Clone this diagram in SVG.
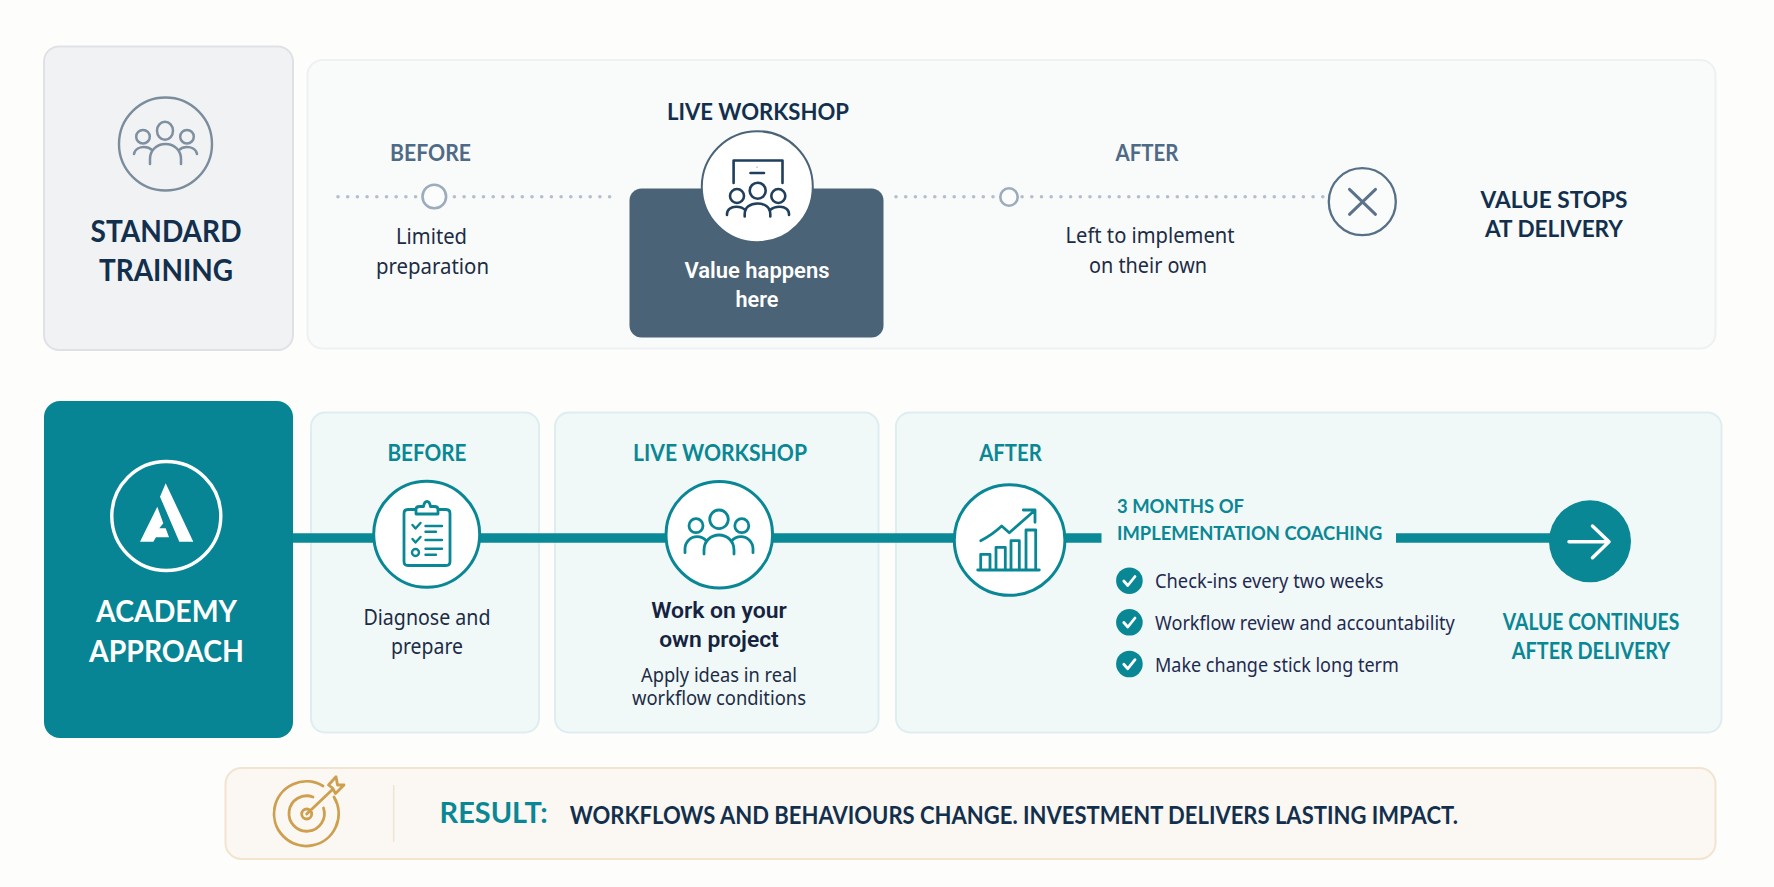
<svg xmlns="http://www.w3.org/2000/svg" width="1774" height="887" viewBox="0 0 1774 887">
<style>
text{font-family:"Lato","Liberation Sans",sans-serif;font-weight:700;text-anchor:middle}
.b{font-family:"Noto Sans","Liberation Sans",sans-serif;font-weight:400;font-size:21.5px;fill:#1c2c45}
.s{font-size:19.5px}
.m{font-family:"Roboto","Liberation Sans",sans-serif;font-weight:600;font-size:22.5px}
.l{text-anchor:start;font-size:19.5px;fill:#1f2a50}
.st{text-anchor:start}
.navy{fill:#12304d}.slate{fill:#4f6a85}.teal{fill:#0a8795}.wh{fill:#fff}.ink{fill:#14233f}
.h1{font-size:30.5px}.h2{font-size:22px}.h3{font-size:19.500px}
.panelT{fill:#f1f8f8;stroke:#deedef;stroke-width:2}
.ci{fill:#fff;stroke:#0a8795;stroke-width:3}
.ico{fill:none;stroke:#0a8795;stroke-width:2.8;stroke-linecap:round;stroke-linejoin:round}
.ico2{stroke-width:2.4}
.ppl{fill:none;stroke:#7e8fa0;stroke-width:2.5;stroke-linecap:round}
.ppd{fill:none;stroke:#1f3f5c;stroke-width:2.6;stroke-linecap:round;stroke-linejoin:round}
.gold{fill:none;stroke:#cd9f4e;stroke-width:2.8;stroke-linecap:round;stroke-linejoin:round}
.dots{fill:none;stroke:#b4bfcd;stroke-width:3.6;stroke-linecap:round;stroke-dasharray:0 9.7}
.bar{fill:none;stroke:#0a8a97;stroke-width:9.5}
.tick{fill:none;stroke:#fff;stroke-width:2.8;stroke-linecap:round;stroke-linejoin:round}
</style>
<rect width="1774" height="887" fill="#fdfdfc"/>

<g id="standard-card">
<rect x="44" y="46.5" width="249" height="303.5" rx="15" fill="#f1f2f4" stroke="#dfe1e6" stroke-width="2"/>
<circle cx="165.500" cy="144" r="46.500" fill="none" stroke="#7b8c9d" stroke-width="2.400"/>
<ellipse cx="165" cy="130.700" rx="8" ry="9" class="ppl"/>
<circle cx="143" cy="136.700" r="6.800" class="ppl"/>
<circle cx="187" cy="136.700" r="6.800" class="ppl"/>
<path class="ppl" d="M150 164V159C150 150 157 144 165.500 144S181 150 181 159V164M134 154C135 149 140 147 144 147C147 147 150 148 152 150M197 154C196 149 191 147 187 147C184 147 181 148 179 150"/>
<text x="166" y="241.700" class="h1 navy" textLength="151" lengthAdjust="spacingAndGlyphs">STANDARD</text>
<text x="166" y="280.700" class="h1 navy" textLength="134" lengthAdjust="spacingAndGlyphs">TRAINING</text>
</g>

<g id="standard-panel">
<rect x="307.500" y="60" width="1408" height="288.500" rx="15" fill="#f9fafa" stroke="#eef0f2" stroke-width="2"/>
</g>

<g id="academy-panels">
<rect x="311" y="412.500" width="228" height="320" rx="14" class="panelT"/>
<rect x="555" y="412.500" width="323.500" height="320" rx="14" class="panelT"/>
<rect x="896" y="412.500" width="825.500" height="320" rx="14" class="panelT"/>
</g>

<g id="connectors">
<path class="dots" d="M338 196.700H612"/>
<path class="dots" d="M896 196.700H1324"/>
<path class="bar" d="M293 538H1101.500"/>
<path class="bar" d="M1396 538H1570"/>
</g>

<g id="standard-before">
<text x="430.500" y="160.700" class="h2 slate" textLength="81" lengthAdjust="spacingAndGlyphs">BEFORE</text>
<circle cx="434.300" cy="196.500" r="11.800" fill="#fbfcfc" stroke="#9dacbc" stroke-width="2.600"/>
<text x="431.500" y="244" class="b" textLength="71" lengthAdjust="spacingAndGlyphs">Limited</text>
<text x="432.500" y="274" class="b" textLength="113" lengthAdjust="spacingAndGlyphs">preparation</text>
</g>

<g id="standard-workshop">
<rect x="629.500" y="188.500" width="254" height="149" rx="12" fill="#4a6377"/>
<circle cx="757.300" cy="186.700" r="55.500" fill="#fff" stroke="#4a6377" stroke-width="2"/>
<text x="758" y="119.700" class="h2 navy" textLength="182" lengthAdjust="spacingAndGlyphs">LIVE WORKSHOP</text>
<path class="ppd" d="M733.600 183V160.500H782.500V183M750.500 173H764"/>
<path d="M757 166.500V168" stroke="#9aa8b5" stroke-width="1"/>
<circle cx="757.700" cy="190.700" r="8" class="ppd"/>
<circle cx="737" cy="196" r="7" class="ppd"/>
<circle cx="778.300" cy="196" r="7" class="ppd"/>
<path class="ppd" d="M744.700 216.500V214C744.700 207.500 750 203.500 757.500 203.500S770.300 207.500 770.300 214V216.500M727 215V214C727 209.500 731 206.700 736 206.700C740 206.700 743.500 208 745.500 210.500M789 215V214C789 209.500 785 206.700 780 206.700C776 206.700 772 208 769.500 210.500"/>
<text x="757" y="278" class="m wh" textLength="145" lengthAdjust="spacingAndGlyphs">Value happens</text>
<text x="757" y="307" class="m wh" textLength="43" lengthAdjust="spacingAndGlyphs">here</text>
</g>

<g id="standard-after">
<text x="1147" y="160.700" class="h2 slate" textLength="63" lengthAdjust="spacingAndGlyphs">AFTER</text>
<circle cx="1009" cy="197" r="8.700" fill="#fbfcfc" stroke="#9dacbc" stroke-width="2.600"/>
<text x="1150" y="243" class="b" textLength="169" lengthAdjust="spacingAndGlyphs">Left to implement</text>
<text x="1148" y="272.700" class="b" textLength="118" lengthAdjust="spacingAndGlyphs">on their own</text>
</g>

<g id="standard-end">
<circle cx="1362.300" cy="201.700" r="33.500" fill="#fafbfb" stroke="#567087" stroke-width="2.300"/>
<path d="M1349.500 189.300L1375.500 214.300M1375.500 189.300L1349.500 214.300" stroke="#5b728a" stroke-width="3" stroke-linecap="round" fill="none"/>
<text x="1554" y="207.700" class="h2 navy" textLength="147" lengthAdjust="spacingAndGlyphs">VALUE STOPS</text>
<text x="1554" y="237" class="h2 navy" textLength="138" lengthAdjust="spacingAndGlyphs">AT DELIVERY</text>
</g>

<g id="academy-card">
<rect x="44" y="401" width="249" height="337" rx="16" fill="#078594"/>
<circle cx="166.300" cy="516" r="54.500" fill="none" stroke="#fff" stroke-width="3.400"/>
<path fill="#fff" d="M160 496.700L165.700 483.300L193.300 541.700H179.300ZM157.300 506.700L163.300 523.300L159.300 528.300H165.700L169 537.300H156L153.300 541.700H140Z"/>
<text x="166.500" y="621.700" class="h1 wh" textLength="141" lengthAdjust="spacingAndGlyphs">ACADEMY</text>
<text x="166.500" y="661.700" class="h1 wh" textLength="155" lengthAdjust="spacingAndGlyphs">APPROACH</text>
</g>

<g id="academy-before">
<text x="427" y="460.700" class="h2 teal" textLength="79" lengthAdjust="spacingAndGlyphs">BEFORE</text>
<circle cx="426.700" cy="534.300" r="53" class="ci"/>
<path class="ico" d="M415.500 509.500H408C405.500 509.500 404 511 404 513.500V561.500C404 564 405.500 565.500 408 565.500H446C448.500 565.500 450 564 450 561.500V513.500C450 511 448.500 509.500 446 509.500H438.500"/>
<path class="ico" d="M416 514V509.500C416 507.500 417.500 506.500 419.500 506.500H423.500C424 503.500 425.500 501.500 427 501.500S430 503.500 430.500 506.500H434.500C436.500 506.500 438 507.500 438 509.500V514Z"/>
<path class="ico ico2" d="M425.500 526H442M425.500 531.800H436M425.500 540H442M425.500 548.700H442M425.500 554.700H436M412.500 525L415.500 528.500L420.500 523M412.500 539L415.500 542.500L420.500 537"/>
<circle cx="415.500" cy="552.500" r="3.500" class="ico ico2"/>
<text x="427" y="625" class="b" textLength="127" lengthAdjust="spacingAndGlyphs">Diagnose and</text>
<text x="427" y="654.300" class="b" textLength="72" lengthAdjust="spacingAndGlyphs">prepare</text>
</g>

<g id="academy-workshop">
<text x="720" y="460.700" class="h2 teal" textLength="174" lengthAdjust="spacingAndGlyphs">LIVE WORKSHOP</text>
<circle cx="719.300" cy="534.700" r="53.300" class="ci"/>
<circle cx="719" cy="519.300" r="9.300" class="ico"/>
<circle cx="696" cy="525.700" r="7" class="ico"/>
<circle cx="741.800" cy="525.700" r="7" class="ico"/>
<path class="ico" d="M704 554V550C704 541 711 535 719 535S734 541 734 550V554M685 552.700V549C685 542 690.500 536.700 697 536.700C701 536.700 704 538 706.500 541M753 552.700V549C753 542 747.500 536.700 741 536.700C737 536.700 734 538 731.500 541"/>
<text x="719" y="618.300" class="m ink" textLength="135.700" lengthAdjust="spacingAndGlyphs">Work on your</text>
<text x="719" y="646.700" class="m ink" textLength="119.600" lengthAdjust="spacingAndGlyphs">own project</text>
<text x="719" y="681.700" class="b s" textLength="156" lengthAdjust="spacingAndGlyphs">Apply ideas in real</text>
<text x="719" y="705" class="b s" textLength="174" lengthAdjust="spacingAndGlyphs">workflow conditions</text>
</g>

<g id="academy-after">
<text x="1010.500" y="460.700" class="h2 teal" textLength="62.500" lengthAdjust="spacingAndGlyphs">AFTER</text>
<circle cx="1009.600" cy="540" r="55.300" class="ci"/>
<path class="ico" d="M977.700 570H1039.300M980.700 570V554.300H990V570M996 570V547.300H1005.300V570M1011 570V540.700H1019.300V570M1026 570V530H1035.700V570M980.700 540.700Q992 535 1001.700 526L1009.300 532.700L1034.300 510.700M1023.300 510H1035V522.300"/>
<text x="1117" y="512.700" class="teal st h3" textLength="127" lengthAdjust="spacingAndGlyphs">3 MONTHS OF</text>
<text x="1117" y="540" class="teal st h3" textLength="265.300" lengthAdjust="spacingAndGlyphs">IMPLEMENTATION COACHING</text>
<circle cx="1129.400" cy="580.700" r="13.300" fill="#0a8795"/>
<path class="tick" d="M1123.800 581L1127.800 585.500L1135 576.500"/>
<text x="1155" y="588.300" class="b l" textLength="228.400" lengthAdjust="spacingAndGlyphs">Check-ins every two weeks</text>
<circle cx="1129.400" cy="622.300" r="13.300" fill="#0a8795"/>
<path class="tick" d="M1123.800 622.500L1127.800 627L1135 618"/>
<text x="1155" y="630" class="b l" textLength="299.800" lengthAdjust="spacingAndGlyphs">Workflow review and accountability</text>
<circle cx="1129.400" cy="664" r="13.300" fill="#0a8795"/>
<path class="tick" d="M1123.800 664.200L1127.800 668.700L1135 659.700"/>
<text x="1155" y="671.700" class="b l" textLength="243.800" lengthAdjust="spacingAndGlyphs">Make change stick long term</text>
</g>

<g id="academy-end">
<circle cx="1590" cy="541.300" r="41" fill="#0a8795"/>
<path d="M1569 541.700H1608M1592.500 526L1609 541.700L1592.500 557.700" fill="none" stroke="#fff" stroke-width="3.500" stroke-linecap="round" stroke-linejoin="round"/>
<text x="1591" y="630" class="h2 teal" textLength="176.600" lengthAdjust="spacingAndGlyphs">VALUE CONTINUES</text>
<text x="1591" y="658.700" class="h2 teal" textLength="158.400" lengthAdjust="spacingAndGlyphs">AFTER DELIVERY</text>
</g>

<g id="result">
<rect x="225.500" y="768" width="1490" height="91" rx="16" fill="#fbf7f2" stroke="#f3e4cf" stroke-width="2"/>
<path class="gold" d="M323 786A32.300 32.300 0 1 0 334 797M313 797A17.700 17.700 0 1 0 323.500 808"/>
<circle cx="306.700" cy="814" r="5" class="gold"/>
<path class="gold" d="M306.700 814L333 789M328.500 785L336 776.800L337.500 785L344 785L335.500 793.500L332.500 788Z"/>
<path d="M393.700 785V841.700" stroke="#f0e4d0" stroke-width="1.500"/>
<text x="439.600" y="823.300" class="teal st" style="font-size:29px" textLength="108.200" lengthAdjust="spacingAndGlyphs">RESULT:</text>
<text x="569.700" y="824" class="navy st" style="font-size:24px" textLength="888.300" lengthAdjust="spacingAndGlyphs">WORKFLOWS AND BEHAVIOURS CHANGE. INVESTMENT DELIVERS LASTING IMPACT.</text>
</g>
</svg>
